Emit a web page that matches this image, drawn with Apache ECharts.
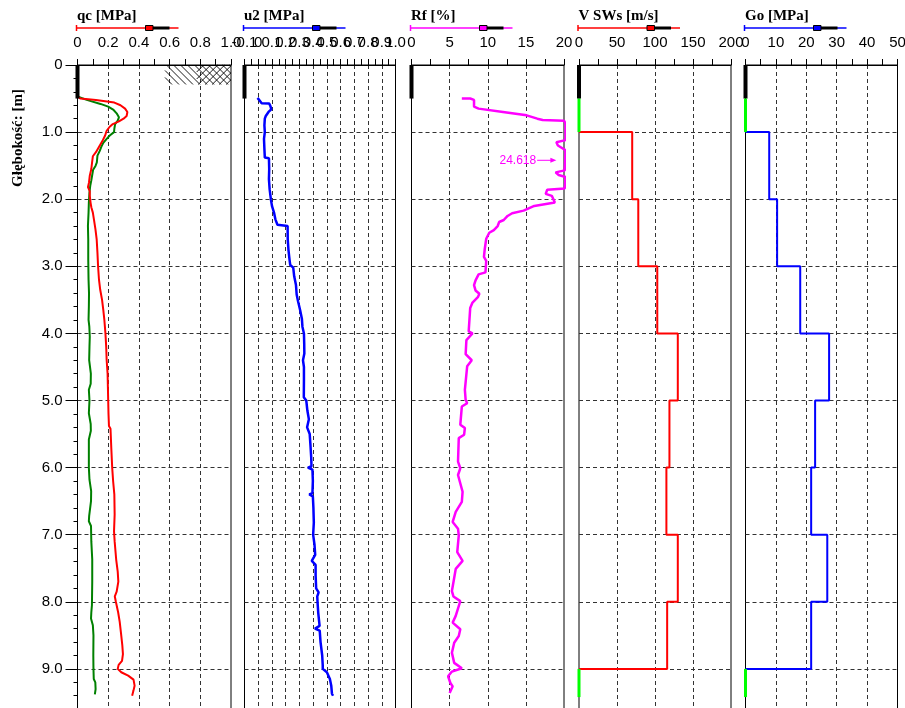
<!DOCTYPE html>
<html><head><meta charset="utf-8">
<script src="https://cdn.jsdelivr.net/npm/echarts@6/dist/echarts.min.js"></script>
<style>html,body{margin:0;padding:0;background:#fff}#c{width:905px;height:708px}</style>
</head><body><div id="c"></div>
<script>
// ---------------- DATA ----------------
const panelTitles = ['qc [MPa]', 'u2 [MPa]', 'Rf [%]', 'V SWs [m/s]', 'Go [MPa]'];
const yAxisTitle = 'Głębokość: [m]';

// qc (red) and second qc-panel curve (green)
const qcDepth = [0.47,0.50,0.52,0.56,0.60,0.65,0.70,0.76,0.80,0.84,0.88,0.92,0.98,1.05,1.12,1.18,1.24,1.30,1.36,1.45,1.55,1.65,1.75,1.82,1.88,1.95,2.05,2.12,2.20,2.30,2.45,2.60,2.80,3.00,3.20,3.35,3.50,3.65,3.80,4.00,4.20,4.40,4.60,4.80,5.00,5.20,5.38,5.42,5.70,6.00,6.20,6.40,6.70,6.95,7.10,7.37,7.55,7.70,7.85,7.92,8.00,8.16,8.30,8.46,8.65,8.78,8.88,8.94,9.00,9.05,9.10,9.16,9.25,9.32,9.40];
const qcValues = [0.00,0.02,0.12,0.24,0.28,0.31,0.325,0.32,0.30,0.27,0.23,0.21,0.19,0.18,0.165,0.15,0.135,0.12,0.10,0.095,0.09,0.08,0.075,0.068,0.08,0.08,0.085,0.09,0.10,0.107,0.117,0.125,0.13,0.134,0.14,0.148,0.16,0.168,0.175,0.182,0.187,0.19,0.196,0.198,0.200,0.202,0.205,0.215,0.220,0.226,0.232,0.240,0.242,0.238,0.242,0.252,0.262,0.266,0.255,0.243,0.25,0.265,0.275,0.283,0.292,0.296,0.290,0.268,0.262,0.285,0.33,0.365,0.372,0.365,0.356];
const fsDepth = [0.47,0.52,0.58,0.62,0.67,0.72,0.78,0.83,0.88,0.95,1.00,1.05,1.10,1.16,1.22,1.28,1.35,1.45,1.50,1.56,1.65,1.72,1.80,1.90,2.05,2.20,2.40,2.60,2.90,3.20,3.40,3.60,3.80,3.90,4.05,4.20,4.40,4.60,4.75,4.84,5.00,5.19,5.35,5.45,5.58,5.80,6.00,6.18,6.35,6.50,6.72,6.80,6.87,7.10,7.37,7.70,8.05,8.16,8.25,8.35,8.50,8.80,9.00,9.15,9.20,9.30,9.38];
const fsValues = [0.00,0.06,0.15,0.20,0.235,0.255,0.27,0.262,0.245,0.24,0.238,0.21,0.19,0.168,0.155,0.145,0.13,0.126,0.118,0.102,0.095,0.09,0.083,0.078,0.074,0.072,0.068,0.07,0.07,0.072,0.075,0.074,0.072,0.077,0.08,0.078,0.076,0.087,0.086,0.074,0.078,0.074,0.086,0.087,0.074,0.074,0.074,0.078,0.089,0.088,0.076,0.074,0.088,0.09,0.096,0.096,0.094,0.090,0.088,0.100,0.104,0.103,0.104,0.106,0.116,0.118,0.113];

// u2
const u2Depth = [0.49,0.53,0.57,0.575,0.62,0.66,0.70,0.76,0.80,0.90,1.00,1.10,1.25,1.38,1.39,1.55,1.70,1.85,2.00,2.10,2.20,2.30,2.38,2.40,2.60,2.75,2.90,2.98,3.02,3.15,3.28,3.42,3.52,3.65,3.78,3.90,4.00,4.15,4.30,4.40,4.50,4.70,4.95,5.00,5.15,5.28,5.40,5.50,5.65,5.85,5.98,6.00,6.03,6.20,6.38,6.40,6.43,6.60,6.82,7.00,7.15,7.30,7.39,7.45,7.60,7.80,7.86,7.92,8.00,8.16,8.36,8.40,8.43,8.60,8.80,8.95,9.00,9.05,9.15,9.25,9.37,9.40];
const u2Values = [-0.005,0.01,0.025,0.08,0.09,0.095,0.075,0.055,0.048,0.045,0.048,0.042,0.045,0.048,0.078,0.08,0.078,0.083,0.092,0.10,0.115,0.125,0.14,0.214,0.215,0.22,0.228,0.233,0.255,0.262,0.275,0.28,0.29,0.305,0.318,0.322,0.333,0.335,0.336,0.326,0.333,0.333,0.332,0.35,0.358,0.369,0.356,0.375,0.38,0.386,0.388,0.362,0.395,0.398,0.395,0.372,0.398,0.402,0.405,0.400,0.41,0.415,0.39,0.418,0.418,0.422,0.44,0.43,0.432,0.437,0.447,0.413,0.448,0.454,0.466,0.47,0.47,0.50,0.522,0.532,0.537,0.545];
const u2TickLabels = [-0.1, 0, 0.1, 0.2, 0.3, 0.4, 0.5, 0.6, 0.7, 0.8, 0.9, 1.0];

// Rf
const rfDepth = [0.50,0.50,0.52,0.62,0.65,0.70,0.75,0.80,0.82,0.83,0.87,1.12,1.15,1.20,1.27,1.57,1.60,1.64,1.67,1.84,1.86,1.92,1.95,2.05,2.10,2.17,2.21,2.25,2.31,2.34,2.40,2.46,2.50,2.59,2.75,2.86,2.92,3.09,3.12,3.21,3.28,3.36,3.41,3.46,3.54,3.62,3.97,4.00,4.10,4.31,4.40,4.49,4.84,4.99,5.04,5.09,5.36,5.41,5.51,5.56,5.91,6.01,6.11,6.36,6.51,6.66,6.81,6.91,7.01,7.26,7.39,7.51,7.84,7.92,7.99,8.21,8.31,8.41,8.51,8.61,8.76,8.91,8.99,9.04,9.11,9.21,9.26,9.36];
const rfValues = [6.6,7.7,8.2,8.2,8.8,12.0,15.1,16.5,17.2,20.0,20.2,20.2,19.0,19.2,20.2,20.1,18.9,19.3,20.2,20.1,17.8,17.6,18.4,18.8,16.1,14.7,13.2,12.6,12.1,11.5,11.3,10.8,10.2,9.8,9.6,9.5,9.8,9.7,8.8,8.4,8.2,8.4,8.9,8.7,8.0,7.7,7.5,8.0,7.2,7.1,7.9,7.3,7.0,7.1,7.3,6.6,6.4,7.0,6.9,6.2,6.1,6.4,6.1,6.7,6.6,5.8,5.4,6.1,6.2,6.0,6.7,5.8,5.3,5.5,6.4,5.8,5.4,6.4,6.2,5.6,5.3,5.6,6.6,5.3,4.8,5.1,5.4,5.0];
const rfMaxText = '24.618';
const rfMaxNote = [16.35, 1.42, 19.0]; // text end value, depth, arrow tip value

// Seismic layers
const layerTops = [1, 2, 3, 4, 5, 6, 7, 8];
const layerBottom = 9;
const vsValues = [70, 78, 103, 130, 119, 115, 130, 116];
const goValues = [7.8, 10.4, 18.0, 27.5, 22.9, 21.6, 26.9, 21.6];

// predrill (black) and no-data (green) intervals
const predrill = [0, 0.5];
const noSeismicTop = [0.5, 1.0];
const noSeismicBottom = [9.0, 9.42];

// hatched soil symbol in qc panel: [x0, depth0, x1, depth1]
const hatchBox = [0.57, 0, 1.0, 0.29];

// axis ticks
const xMins = [0, -0.1, 0, 0, 0];
const xMaxs = [1.0, 1.0, 20, 200, 50];
const xIntervals = [0.2, 0.1, 5, 50, 10];
const depthInterval = 1;
const depthMax = 10;

// ---------------- LAYOUT / STYLE ----------------
const lefts = [77.5, 244.5, 411.5, 579, 745.5];
const widths = [153.5, 151, 152.5, 152, 152];
const TOP = 65, PXM = 67.1;
const headColors = ['#ff0000', '#0000ff', '#ff00ff', '#ff0000', '#0000ff'];
const dashed = {color: '#333', width: 1, type: [4, 3]};
const FONT = '"Liberation Sans", Arial, sans-serif';
const LABEL_MARGIN = 15;

const zip = (xs, ys) => xs.map((x, i) => [x, ys[i]]);
function stepPoints(tops, bottom, vals) {
  const pts = [[0, tops[0]]];
  for (let i = 0; i < vals.length; i++) {
    pts.push([vals[i], tops[i]]);
    pts.push([vals[i], i < vals.length - 1 ? tops[i + 1] : bottom]);
  }
  pts.push([0, bottom]);
  return pts;
}
const fmt1 = v => (Math.abs(v) < 1e-9 ? '0' : (+v).toFixed(1));
const fmtInt = v => String(Math.round(v));

const grids = lefts.map((l, i) => ({
  left: l, top: TOP, width: widths[i], height: depthMax * PXM,
  show: true, borderColor: '#000', borderWidth: 1, backgroundColor: 'rgba(0,0,0,0)',
  containLabel: false, outerBoundsMode: 'none'
}));

const xAxes = lefts.map((l, i) => ({
  type: 'value', gridIndex: i, position: 'top',
  min: xMins[i], max: xMaxs[i], interval: xIntervals[i],
  axisLine: {show: true, lineStyle: {color: '#000', width: 1}},
  axisTick: {show: true, inside: false, length: 6, lineStyle: {color: '#000'}},
  minorTick: {show: true, splitNumber: 2, length: 6, lineStyle: {color: '#000'}},
  axisLabel: {show: i !== 1, margin: LABEL_MARGIN, fontSize: 15, color: '#000', fontFamily: FONT,
    formatter: i < 2 ? fmt1 : fmtInt, hideOverlap: false, showMinLabel: true, showMaxLabel: true},
  splitLine: {show: true, showMinLine: false, showMaxLine: false, lineStyle: dashed},
  minorSplitLine: {show: false}
}));

const yAxes = lefts.map((l, i) => ({
  type: 'value', gridIndex: i, inverse: true, min: 0, max: depthMax, interval: depthInterval,
  axisLine: {show: i === 0, lineStyle: {color: '#000'}},
  axisTick: {show: i === 0, length: 12, lineStyle: {color: '#000'}},
  minorTick: {show: i === 0, splitNumber: 5, length: 4, lineStyle: {color: '#000'}},
  axisLabel: {show: i === 0, margin: 15, fontSize: 15, color: '#000', fontFamily: FONT,
    formatter: fmt1, showMinLabel: true, showMaxLabel: true},
  splitLine: {show: true, showMinLine: false, showMaxLine: false, lineStyle: dashed}
}));

function lineSeries(idx, data, color, width, extra) {
  return Object.assign({
    type: 'line', xAxisIndex: idx, yAxisIndex: idx, data: data,
    showSymbol: false, symbol: 'none', silent: true, animation: false,
    lineStyle: {color: color, width: width}, itemStyle: {color: color}, z: 3
  }, extra || {});
}

const series = [];
// hatch symbol
series.push({
  type: 'custom', xAxisIndex: 0, yAxisIndex: 0, clip: false, silent: true, z: 2,
  data: [hatchBox], encode: {x: [0, 2], y: [1, 3]},
  renderItem: (params, api) => {
    const p0 = api.coord([api.value(0), api.value(1)]);
    const p1 = api.coord([api.value(2), api.value(3)]);
    const x0 = Math.min(p0[0], p1[0]), x1 = Math.max(p0[0], p1[0]);
    const y0 = Math.min(p0[1], p1[1]), y1 = Math.max(p0[1], p1[1]);
    const h = y1 - y0, step = 7, children = [];
    const st = {stroke: '#000', lineWidth: 0.9};
    for (let s = x0 - h; s < x1; s += step) {
      const ts = Math.max(0, x0 - s), te = Math.min(h, x1 - s);
      if (te > ts) children.push({type: 'line', shape: {x1: s + ts, y1: y0 + ts, x2: s + te, y2: y0 + te}, style: st});
    }
    const xm = x0 + (x1 - x0) * 0.48;
    for (let s = xm - h; s < x1; s += step) {
      const ts = Math.max(0, xm - s), te = Math.min(h, x1 - s);
      if (te > ts) children.push({type: 'line', shape: {x1: s + ts, y1: y1 - ts, x2: s + te, y2: y1 - te}, style: st});
    }
    return {type: 'group', children: children};
  }
});
// u2 tick labels (drawn all, overlapping as in the original)
series.push({
  type: 'custom', xAxisIndex: 1, yAxisIndex: 1, clip: false, silent: true, z: 5,
  data: u2TickLabels.map(v => [v, 0]), encode: {x: 0, y: 1},
  renderItem: (params, api) => {
    const c = api.coord([api.value(0), api.value(1)]);
    return {type: 'text', x: c[0], y: c[1] - LABEL_MARGIN,
      style: {text: fmt1(api.value(0)), font: '15px ' + FONT, fill: '#000',
        align: 'center', verticalAlign: 'bottom', textAlign: 'center', textVerticalAlign: 'bottom'}};
  }
});
// predrill black bars
for (let i = 0; i < 5; i++) {
  series.push(lineSeries(i, [[xMins[i], predrill[0]], [xMins[i], predrill[1]]], '#000', 4, {clip: false, z: 4}));
}
// curves
series.push(lineSeries(0, zip(fsValues, fsDepth), '#008000', 2));
series.push(lineSeries(0, zip(qcValues, qcDepth), '#ff0000', 2));
series.push(lineSeries(1, zip(u2Values, u2Depth), '#0000ff', 2.5));
series.push(lineSeries(2, zip(rfValues, rfDepth), '#ff00ff', 2.5, {clip: false}));
series.push(lineSeries(3, stepPoints(layerTops, layerBottom, vsValues), '#ff0000', 2));
series.push(lineSeries(4, stepPoints(layerTops, layerBottom, goValues), '#0000ff', 2));
for (const i of [3, 4]) {
  series.push(lineSeries(i, [[0, noSeismicTop[0]], [0, noSeismicTop[1]]], '#00ff00', 3, {clip: false, z: 4}));
  series.push(lineSeries(i, [[0, noSeismicBottom[0]], [0, noSeismicBottom[1]]], '#00ff00', 3, {clip: false, z: 4}));
}
// Rf max annotation
series.push({
  type: 'custom', xAxisIndex: 2, yAxisIndex: 2, clip: false, silent: true, z: 5,
  data: [rfMaxNote], encode: {x: [0, 2], y: 1},
  renderItem: (params, api) => {
    const a = api.coord([api.value(0), api.value(1)]);
    const b = api.coord([api.value(2), api.value(1)]);
    return {type: 'group', children: [
      {type: 'text', x: a[0], y: a[1], style: {text: rfMaxText, fill: '#ff00ff', font: '12px ' + FONT,
        align: 'right', verticalAlign: 'middle', textAlign: 'right', textVerticalAlign: 'middle'}},
      {type: 'line', shape: {x1: a[0] + 1, y1: a[1], x2: b[0] - 4, y2: b[1]}, style: {stroke: '#ff00ff', lineWidth: 1}},
      {type: 'polygon', shape: {points: [[b[0], b[1]], [b[0] - 6, b[1] - 2.5], [b[0] - 6, b[1] + 2.5]]}, style: {fill: '#ff00ff'}}
    ]};
  }
});

// header decorations
const graphics = [];
lefts.forEach((l, i) => {
  const c = headColors[i];
  graphics.push({type: 'text', x: l - 0.5, y: 16, silent: true,
    style: {text: panelTitles[i], font: 'bold 15px "Liberation Serif", "Times New Roman", serif', fill: '#000',
      verticalAlign: 'middle', textVerticalAlign: 'middle'}});
  graphics.push({type: 'line', silent: true, shape: {x1: l - 1, y1: 28, x2: l + 101, y2: 28}, style: {stroke: c, lineWidth: 1.5}});
  graphics.push({type: 'line', silent: true, shape: {x1: l - 1, y1: 25, x2: l - 1, y2: 31}, style: {stroke: c, lineWidth: 1.5}});
  graphics.push({type: 'line', silent: true, shape: {x1: l + 75, y1: 28, x2: l + 92, y2: 28}, style: {stroke: '#000', lineWidth: 3}});
  graphics.push({type: 'rect', silent: true, shape: {x: l + 68, y: 25.5, width: 7.5, height: 5}, style: {fill: c, stroke: '#000', lineWidth: 1}});
});
graphics.push({type: 'text', x: 18, y: 138, rotation: Math.PI / 2, silent: true,
  style: {text: yAxisTitle, font: 'bold 15px "Liberation Serif", "Times New Roman", serif', fill: '#000',
    align: 'center', verticalAlign: 'middle', textAlign: 'center', textVerticalAlign: 'middle'}});

const chart = echarts.init(document.getElementById('c'), null, {renderer: 'canvas'});
chart.setOption({
  animation: false,
  backgroundColor: '#fff',
  grid: grids, xAxis: xAxes, yAxis: yAxes, series: series, graphic: graphics
});
</script>
</body></html>
